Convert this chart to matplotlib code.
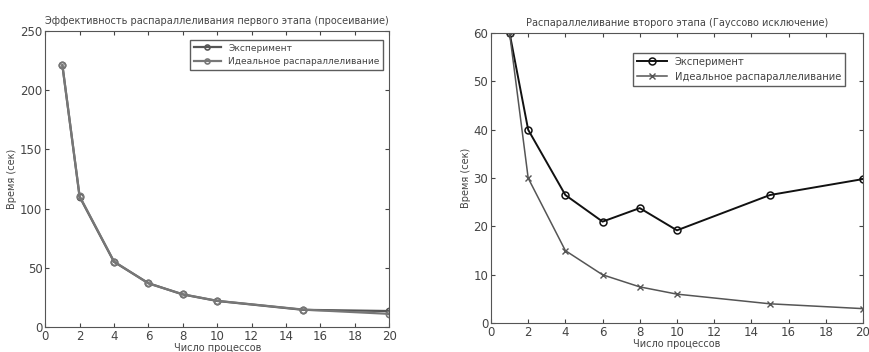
import numpy as np
import matplotlib.pyplot as plt

## data
procs = [1, 2, 4, 6, 8, 10, 15, 20]
sieve_exp = [221, 110, 55, 37, 27.5, 22, 14.5, 13.5]
sieve_ideal = [221, 110.5, 55.3, 36.8, 27.6, 22.1, 14.7, 11.1]
gauss_exp = [60, 40, 26.5, 21, 23.8, 19.2, 26.5, 29.8]
gauss_ideal = [60, 30, 15, 10, 7.5, 6, 4, 3]

plt.rcParams['font.family'] = ['DejaVu Sans']
txt = '#444444'

fig = plt.figure(figsize=(8.69, 3.52), dpi=100)

## left: sieve stage
ax1 = fig.add_axes([0.052, 0.071, 0.396, 0.841])
ax1.plot(procs, sieve_exp, '-o', color='#555555', lw=1.6, ms=4.5,
         mfc='none', mew=1.2, label='Эксперимент')
ax1.plot(procs, sieve_ideal, '-o', color='#777777', lw=1.6, ms=4.5,
         mfc='none', mew=1.2, label='Идеальное распараллеливание')
ax1.set_xlim(0, 20)
ax1.set_ylim(0, 250)
ax1.set_xticks(range(0, 21, 2))
ax1.set_yticks(range(0, 251, 50))
ax1.set_title('Эффективность распараллеливания первого этапа (просеивание)',
              fontsize=7, color=txt, pad=5)
ax1.set_xlabel('Число процессов', fontsize=7, color=txt, labelpad=0)
ax1.set_ylabel('Время (сек)', fontsize=7, color=txt, labelpad=2)
leg1 = ax1.legend(loc='upper right', bbox_to_anchor=(0.995, 0.985),
                  fontsize=6.5, fancybox=False, edgecolor='#333333',
                  handlelength=3, markerscale=0.8)
for t in leg1.get_texts():
    t.set_color(txt)

## right: gauss stage
ax2 = fig.add_axes([0.565, 0.082, 0.428, 0.824])
ax2.plot(procs, gauss_exp, '-o', color='#111111', lw=1.4, ms=5,
         mfc='none', mew=1.1, label='Эксперимент')
ax2.plot(procs, gauss_ideal, '-x', color='#555555', lw=1.1, ms=5,
         mew=1.0, label='Идеальное распараллеливание')
ax2.set_xlim(0, 20)
ax2.set_ylim(0, 60)
ax2.set_xticks(range(0, 21, 2))
ax2.set_yticks(range(0, 61, 10))
ax2.set_title('Распараллеливание второго этапа (Гауссово исключение)',
              fontsize=7, color=txt, pad=5)
ax2.set_xlabel('Число процессов', fontsize=7, color=txt, labelpad=0)
ax2.set_ylabel('Время (сек)', fontsize=7, color=txt, labelpad=2)
leg2 = ax2.legend(loc='upper right', bbox_to_anchor=(0.965, 0.95),
                  fontsize=7.2, fancybox=False, edgecolor='#333333',
                  handlelength=3)
for t in leg2.get_texts():
    t.set_color(txt)

for ax in (ax1, ax2):
    ax.tick_params(direction='in', top=True, right=True, labelsize=8.5,
                   colors=txt, length=3, pad=2)
    for s in ax.spines.values():
        s.set_color('#555555')

fig.savefig('out.png', dpi=100)
